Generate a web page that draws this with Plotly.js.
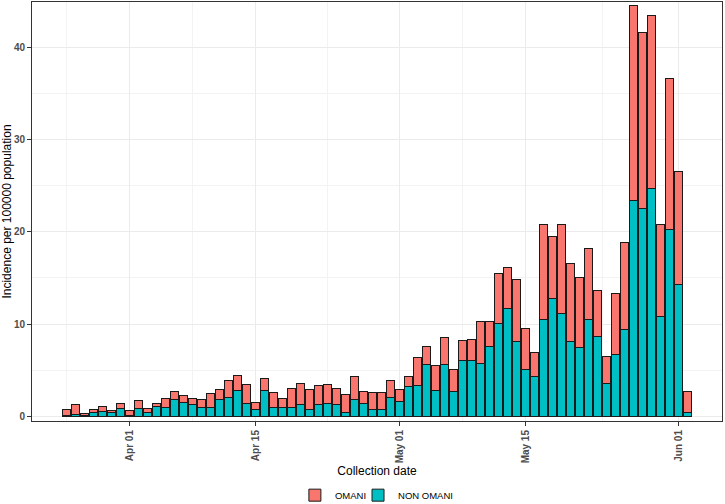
<!DOCTYPE html>
<html>
<head>
<meta charset="utf-8">
<script src="https://cdn.plot.ly/plotly-3.0.1.min.js"></script>
<style>html,body{margin:0;padding:0;background:#fff;}#chart{width:725px;height:504px;}</style>
</head>
<body>
<div id="chart"></div>
<script>
const dates = [
 "2020-03-25","2020-03-26","2020-03-27","2020-03-28","2020-03-29","2020-03-30","2020-03-31",
 "2020-04-01","2020-04-02","2020-04-03","2020-04-04","2020-04-05","2020-04-06","2020-04-07",
 "2020-04-08","2020-04-09","2020-04-10","2020-04-11","2020-04-12","2020-04-13","2020-04-14",
 "2020-04-15","2020-04-16","2020-04-17","2020-04-18","2020-04-19","2020-04-20","2020-04-21",
 "2020-04-22","2020-04-23","2020-04-24","2020-04-25","2020-04-26","2020-04-27","2020-04-28",
 "2020-04-29","2020-04-30","2020-05-01","2020-05-02","2020-05-03","2020-05-04","2020-05-05",
 "2020-05-06","2020-05-07","2020-05-08","2020-05-09","2020-05-10","2020-05-11","2020-05-12",
 "2020-05-13","2020-05-14","2020-05-15","2020-05-16","2020-05-17","2020-05-18","2020-05-19",
 "2020-05-20","2020-05-21","2020-05-22","2020-05-23","2020-05-24","2020-05-25","2020-05-26",
 "2020-05-27","2020-05-28","2020-05-29","2020-05-30","2020-05-31","2020-06-01","2020-06-02"
];
const nonOmani = [
 0.10,0.20,0.15,0.40,0.54,0.43,0.90,
 0.05,0.83,0.40,1.02,0.92,1.82,1.55,
 1.26,0.92,1.00,1.88,2.02,2.85,1.37,
 0.76,2.80,1.00,0.97,0.97,1.26,0.80,
 1.26,1.37,1.26,0.47,1.88,1.37,0.72,
 0.80,2.00,1.66,3.20,3.36,5.60,2.82,
 5.60,2.70,6.03,6.06,5.70,7.58,10.10,
 11.66,8.10,5.05,4.37,10.50,12.80,11.10,
 8.16,7.47,10.50,8.66,3.54,6.70,9.46,
 23.40,22.50,24.70,10.83,20.25,14.30,0.47
];
const omani = [
 0.66,1.10,0.15,0.32,0.51,0.22,0.54,
 0.60,0.90,0.43,0.35,1.01,0.88,0.70,
 0.73,0.88,1.52,1.04,1.88,1.55,2.13,
 0.70,1.28,1.56,0.93,2.03,2.34,2.10,
 2.04,2.10,1.74,1.91,2.49,1.30,1.88,
 1.80,1.87,1.26,1.13,3.07,1.98,2.67,
 2.92,2.43,2.17,2.32,4.60,2.72,5.40,
 4.44,6.70,4.45,2.60,10.26,6.70,9.70,
 8.44,7.58,7.66,4.99,2.96,6.66,9.38,
 21.10,19.05,18.70,9.97,16.35,12.20,2.27
];
const xTickVals = ["2020-04-01","2020-04-15","2020-05-01","2020-05-15","2020-06-01"];
const xTickText = ["Apr 01","Apr 15","May 01","May 15","Jun 01"];
const xMinorVals = ["2020-03-25","2020-04-08","2020-04-23","2020-05-08","2020-05-23 12:00"];
const yTickVals = [0,10,20,30,40];
const yMinorVals = [5,15,25,35];

const barW = 0.9 * 86400000;
const traces = [
 {type:"bar", name:"NON OMANI", x:dates, y:nonOmani, width:barW, legend:"legend2",
  marker:{color:"#00BFC4", line:{color:"#1a1a1a", width:1}}},
 {type:"bar", name:"OMANI", x:dates, y:omani, width:barW, legend:"legend",
  marker:{color:"#F8766D", line:{color:"#1a1a1a", width:1}}}
];
const tickFont = {family:"Liberation Sans, Arial, sans-serif", size:10, color:"#4D4D4D", weight:"bold"};
const legFont = {size:9.5, color:"#000"};
const layout = {
 width:725, height:504,
 margin:{l:32, r:3, t:2, b:83, autoexpand:false},
 barmode:"stack", bargap:0,
 paper_bgcolor:"#fff", plot_bgcolor:"#fff",
 font:{family:"Liberation Sans, Arial, sans-serif", color:"#000"},
 showlegend:true,
 legend:{orientation:"h", x:0.381, xanchor:"left", y:-0.177, yanchor:"middle",
   font:legFont, itemwidth:30, bgcolor:"rgba(0,0,0,0)"},
 legend2:{orientation:"h", x:0.4725, xanchor:"left", y:-0.177, yanchor:"middle",
   font:legFont, itemwidth:30, bgcolor:"rgba(0,0,0,0)"},
 xaxis:{type:"date", range:["2020-03-21 03:00","2020-06-05 19:00"],
   tickmode:"array", tickvals:xTickVals, ticktext:xTickText, tickangle:-90,
   tickfont:tickFont, ticks:"outside", ticklen:4, tickcolor:"#333", tickwidth:1,
   showgrid:true, gridcolor:"#EBEBEB", gridwidth:1,
   minor:{tickmode:"array", tickvals:xMinorVals, showgrid:true, gridcolor:"#F3F3F3", gridwidth:1, ticklen:0},
   showline:true, mirror:true, linecolor:"#333", linewidth:1, zeroline:false,
   title:{text:"Collection date", font:{size:12, color:"#000"}, standoff:4},
   automargin:false},
 yaxis:{range:[-0.5, 44.9], tickmode:"array", tickvals:yTickVals,
   tickfont:tickFont, ticks:"outside", ticklen:4, tickcolor:"#333", tickwidth:1,
   showgrid:true, gridcolor:"#EBEBEB", gridwidth:1,
   minor:{tickmode:"array", tickvals:yMinorVals, showgrid:true, gridcolor:"#F3F3F3", gridwidth:1, ticklen:0},
   showline:true, mirror:true, linecolor:"#333", linewidth:1, zeroline:false,
   title:{text:"Incidence per 100000 population", font:{size:12, color:"#000"}, standoff:4},
   automargin:false}
};
Plotly.newPlot("chart", traces, layout, {displayModeBar:false, staticPlot:true});
</script>
</body>
</html>
